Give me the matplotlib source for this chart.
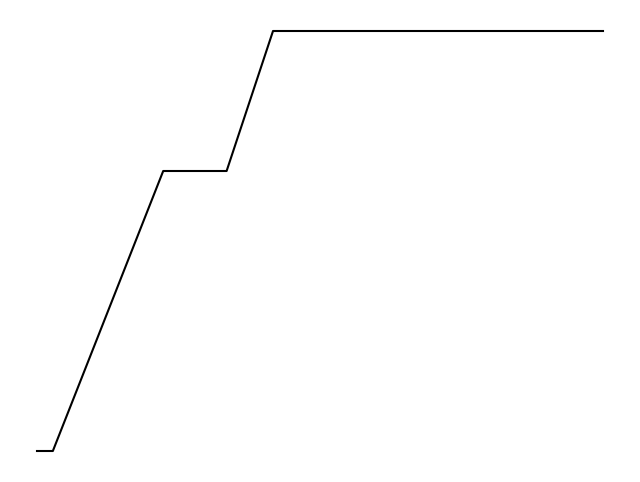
import matplotlib
matplotlib.use("Agg")
import matplotlib.pyplot as plt

x_vals = [0.0, 0.028, 0.223, 0.335, 0.417, 1.0]
y_vals = [0, 0, 2, 2, 3, 3]

W, H = 640, 482
fig = plt.figure(figsize=(W / 100, H / 100), dpi=100)
left, right = 37 / W, 603 / W
bottom, top = (H - 451) / H, (H - 31) / H
ax = fig.add_axes([left, bottom, right - left, top - bottom])
ax.plot(x_vals, y_vals, color="black", linewidth=1.5, clip_on=False)
ax.set_xlim(min(x_vals), max(x_vals))
ax.set_ylim(min(y_vals), max(y_vals))
ax.axis("off")
fig.savefig("out.png", dpi=100, facecolor="white")
